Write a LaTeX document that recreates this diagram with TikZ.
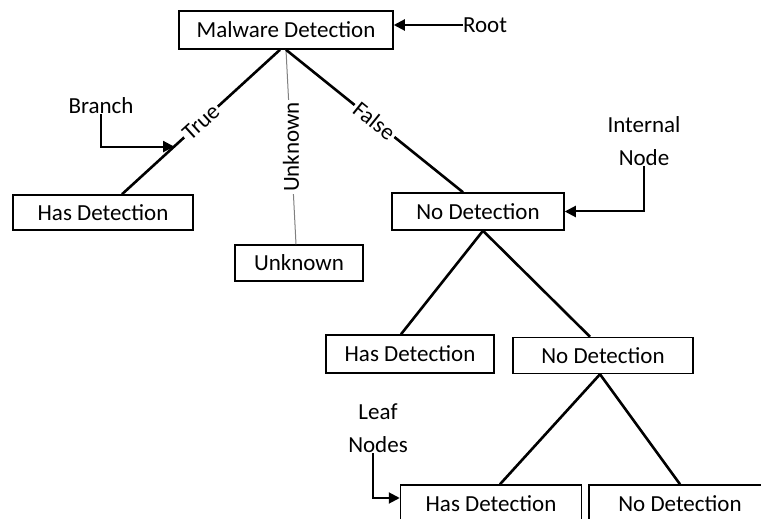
\documentclass[tikz,border=0pt]{standalone}
\usepackage{fontspec}
\setmainfont{Carlito}
\usetikzlibrary{positioning, arrows.meta, calc}

\begin{document}
\begin{tikzpicture}[x=0.5pt, y=-0.5pt, font=\fontsize{11.5}{16.5}\selectfont]

	\tikzstyle{box}=[draw, line width=0.75pt, inner sep=0pt, minimum height=18.5pt]
	\tikzstyle{note}=[align=center, inner sep=0pt]

	\tikzstyle{branch}=[line width=1.3pt]
	\tikzstyle{weakbranch}=[line width=0.5pt, draw=gray]
	\tikzstyle{edgelabel}=[midway, fill=white, inner sep=1pt]
	\tikzstyle{pointer}=[-{Triangle[length=5.5pt, width=5.5pt]}, line width=1pt]

	\useasboundingbox (0,0) rectangle (761,519);

	\node[box, minimum width=107pt, minimum height=19pt](root) at (286,30) {Malware Detection};

	\node[box, minimum width=90pt, minimum height=17.5pt](hasdet1) at (103,212.5) {Has Detection};
	\node[box, minimum width=64pt, minimum height=18pt](unknown) at (299,263) {Unknown};
	\node[box, minimum width=86pt](nodet1) at (478,211.5) {No Detection};

	\node[box, minimum width=84pt, minimum height=19pt](hasdet2) at (410,354) {Has Detection};
	\node[box, minimum width=90pt, minimum height=18pt](nodet2) at (603,355.5) {No Detection};

	\node[box, minimum width=90.5pt](hasdet3) at (491,503.5) {Has Detection};
	\node[box, minimum width=91pt](nodet3) at (680,503.5) {No Detection};

	\draw[branch] ([xshift=-3pt]root.south) -- node[edgelabel, sloped]{True} coordinate[pos=0.67](branchpt) ([xshift=9.5pt]hasdet1.north);
	\draw[weakbranch] (root.south) -- node[edgelabel, rotate=90]{Unknown} ([xshift=-1.5pt]unknown.north);
	\draw[branch] (root.south) -- node[edgelabel, sloped]{False} ([xshift=-7.5pt]nodet1.north);

	\draw[branch] ([xshift=2.5pt]nodet1.south) -- ([xshift=-4.5pt]hasdet2.north);
	\draw[branch] ([xshift=2.5pt]nodet1.south) -- ([xshift=-6.5pt]nodet2.north);

	\draw[branch] ([xshift=-1.5pt]nodet2.south) -- ([xshift=4.5pt]hasdet3.north);
	\draw[branch] ([xshift=-1.5pt]nodet2.south) -- (nodet3.north);

	% annotations
	\node[note](rootnote) at (485,25) {Root};
	\node[note](branchnote) at (101,106) {Branch};
	\node[note](internalnote) at (644,141) {Internal\\Node};
	\node[note](leafnote) at (378,428) {Leaf\\Nodes};

	\draw[pointer] (rootnote.west) -- (rootnote.west -| root.east);
	\draw[pointer] (branchnote.south) |- (branchpt);
	\draw[pointer] (internalnote.south) |- (nodet1.east);
	\draw[pointer] ([xshift=-2.5pt]leafnote.south) |- ([yshift=2.75pt]hasdet3.west);

\end{tikzpicture}
\end{document}
